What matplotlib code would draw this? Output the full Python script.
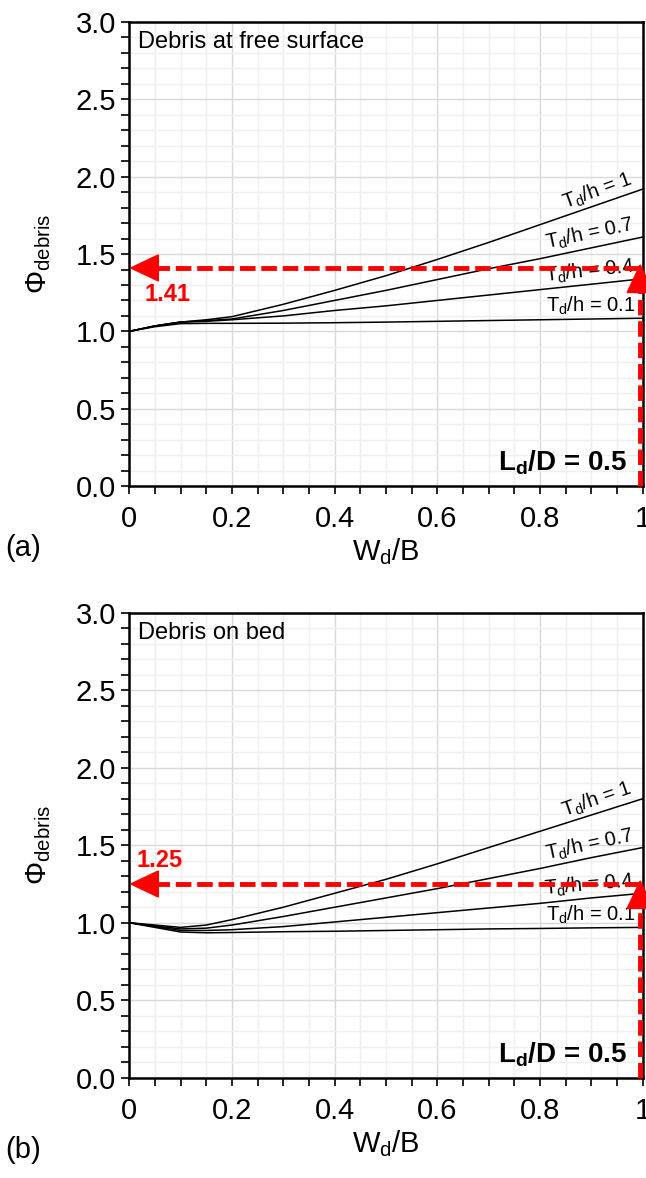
import numpy as np
import matplotlib
matplotlib.use("Agg")
import matplotlib.pyplot as plt
from matplotlib.ticker import MultipleLocator, FuncFormatter

plt.rcParams['font.family'] = ['Liberation Sans', 'DejaVu Sans']
plt.rcParams['mathtext.fontset'] = 'custom'
plt.rcParams['mathtext.rm'] = 'Liberation Sans'
plt.rcParams['mathtext.it'] = 'Liberation Sans:italic'
plt.rcParams['mathtext.bf'] = 'Liberation Sans:bold'

# W_d/B
wd = [0, 0.05, 0.1, 0.15, 0.2, 0.3, 0.4, 0.5, 0.6, 0.7, 0.8, 0.9, 1.0]
td_labels = ['1', '0.7', '0.4', '0.1']

# (a) debris at free surface
phi_a_10 = [1.00, 1.035, 1.06, 1.075, 1.095, 1.175, 1.265, 1.36, 1.465, 1.575, 1.69, 1.805, 1.92]
phi_a_07 = [1.00, 1.035, 1.06, 1.07, 1.08, 1.135, 1.20, 1.265, 1.335, 1.405, 1.47, 1.54, 1.61]
phi_a_04 = [1.00, 1.035, 1.06, 1.065, 1.075, 1.10, 1.135, 1.165, 1.20, 1.235, 1.27, 1.305, 1.34]
phi_a_01 = [1.00, 1.03, 1.05, 1.052, 1.052, 1.053, 1.056, 1.06, 1.065, 1.07, 1.075, 1.08, 1.085]

# (b) debris on bed
phi_b_10 = [1.00, 0.985, 0.97, 0.985, 1.02, 1.10, 1.19, 1.28, 1.38, 1.485, 1.59, 1.695, 1.80]
phi_b_07 = [1.00, 0.98, 0.96, 0.965, 0.985, 1.04, 1.10, 1.16, 1.22, 1.285, 1.35, 1.42, 1.485]
phi_b_04 = [1.00, 0.975, 0.95, 0.95, 0.955, 0.975, 1.005, 1.035, 1.065, 1.095, 1.125, 1.16, 1.19]
phi_b_01 = [1.00, 0.97, 0.94, 0.935, 0.937, 0.942, 0.945, 0.95, 0.955, 0.96, 0.963, 0.967, 0.97]

read_a = 1.41
read_b = 1.25

fig = plt.figure(figsize=(6.46, 11.78), dpi=100)
ax_a = fig.add_axes([0.2, 0.5874, 0.795, 0.3939])
ax_b = fig.add_axes([0.2, 0.0851, 0.795, 0.3948])

head = '-|>,head_length=1.9,head_width=0.9'


def style_axes(ax):
    ax.set_xlim(0, 1)
    ax.set_ylim(0, 3)
    ax.xaxis.set_major_locator(MultipleLocator(0.2))
    ax.xaxis.set_minor_locator(MultipleLocator(0.05))
    ax.yaxis.set_major_locator(MultipleLocator(0.5))
    ax.yaxis.set_minor_locator(MultipleLocator(0.1))
    ax.xaxis.set_major_formatter(FuncFormatter(lambda v, p: f"{v:g}"))
    ax.yaxis.set_major_formatter(FuncFormatter(lambda v, p: f"{v:.1f}"))
    ax.grid(which='major', color='#d9d9d9', lw=1.0)
    ax.grid(which='minor', color='#efefef', lw=1.0)
    ax.set_axisbelow(True)
    ax.tick_params(which='both', direction='out', length=6, width=1.2,
                   labelsize=21, top=False, right=False)
    ax.tick_params(axis='x', pad=8)
    for s in ax.spines.values():
        s.set_linewidth(1.8)
        s.set_color('black')
    ax.set_xlabel("W$_\\mathrm{d}$/B", fontsize=21, labelpad=2)
    ax.set_ylabel("Φ$_\\mathrm{debris}$", fontsize=21, labelpad=16)


def draw_panel(ax, series, angles, offsets, title, value, val_xy):
    style_axes(ax)
    for phi, lab, ang, off in zip(series, td_labels, angles, offsets):
        ax.plot(wd, phi, color='black', lw=1.1)
        ax.text(0.985, np.interp(0.985, wd, phi) + off, "T$_\\mathrm{d}$/h = " + lab,
                fontsize=14.5, ha='right', va='bottom', rotation=ang,
                rotation_mode='anchor')
    ax.text(0.018, 2.87, title, fontsize=17, ha='left', va='center')
    ax.text(0.97, 0.15, "L$_\\mathbf{d}$/D = 0.5", fontsize=20, fontweight='bold',
            ha='right', va='center')
    # reading arrows
    ax.plot([0.995, 0.995], [0, value - 0.1], color='red', lw=3.5, ls=(0, (3.2, 1.2)),
            clip_on=False, zorder=5)
    ax.annotate('', xy=(0.995, value + 0.03), xytext=(0.995, value - 0.12),
                arrowprops=dict(arrowstyle=head, color='red', lw=1.5,
                                shrinkA=0, shrinkB=0),
                annotation_clip=False, zorder=6)
    ax.plot([0.995, 0.045], [value, value], color='red', lw=3.5, ls=(0, (3.2, 1.2)),
            clip_on=False, zorder=5)
    ax.annotate('', xy=(0.0, value), xytext=(0.07, value),
                arrowprops=dict(arrowstyle=head, color='red', lw=1.5,
                                shrinkA=0, shrinkB=0),
                annotation_clip=False, zorder=6)
    ax.text(val_xy[0], val_xy[1], f"{value:.2f}", color='red', fontsize=17,
            fontweight='bold', ha='left', va='center')


draw_panel(ax_a, [phi_a_10, phi_a_07, phi_a_04, phi_a_01], [20, 12, 6, 0],
           [0.02, 0.02, 0.01, 0.01], "Debris at free surface", read_a, (0.03, 1.24))
draw_panel(ax_b, [phi_b_10, phi_b_07, phi_b_04, phi_b_01], [19, 12, 5, 0],
           [0.02, 0.02, 0.01, 0.01], "Debris on bed", read_b, (0.015, 1.40))

fig.text(5 / 646, 1 - 548 / 1178, "(a)", fontsize=21, ha='left', va='center')
fig.text(5 / 646, 1 - 1150 / 1178, "(b)", fontsize=21, ha='left', va='center')

fig.savefig("out.png", dpi=100)
